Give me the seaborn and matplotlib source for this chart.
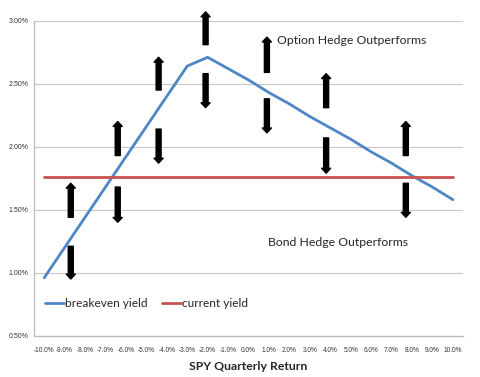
import pandas as pd
import seaborn as sns
import matplotlib.pyplot as plt

# SPY quarterly return categories (%) and yields (%)
returns = [-10, -9, -8, -7, -6, -5, -4, -3, -2, -1, 0, 1, 2, 3, 4, 5, 6, 7, 8, 9, 10]
breakeven_yield = [0.96, 1.20, 1.44, 1.68, 1.92, 2.16, 2.40, 2.64, 2.71, 2.62, 2.53,
                   2.43, 2.34, 2.24, 2.15, 2.06, 1.96, 1.87, 1.77, 1.68, 1.58]
current_yield = [1.76] * len(returns)

# hand-drawn arrows: category position, up arrow (base, tip), down arrow (base, tip)
arrow_pos = [1.3, 3.6, 5.6, 7.9, 10.9, 13.8, 17.7]
up_base = [1.44, 1.93, 2.45, 2.81, 2.59, 2.31, 1.93]
up_tip = [1.71, 2.20, 2.71, 3.07, 2.87, 2.58, 2.20]
down_base = [1.21, 1.68, 2.14, 2.58, 2.38, 2.07, 1.71]
down_tip = [0.95, 1.40, 1.87, 2.31, 2.11, 1.79, 1.44]

sns.set_style("white")
plt.rcParams["font.family"] = ["Lato", "DejaVu Sans"]

df = pd.DataFrame({
    "pos": list(range(len(returns))) * 2,
    "value": breakeven_yield + current_yield,
    "series": ["breakeven yield"] * len(returns) + ["current yield"] * len(returns),
})

fig = plt.figure(figsize=(4.8, 3.77), dpi=100)
ax = fig.add_axes([0.0708, 0.1095, 0.8938, 0.8355])

sns.lineplot(data=df, x="pos", y="value", hue="series",
             palette={"breakeven yield": "#4F86C6", "current yield": "#C9514E"},
             linewidth=2.0, ax=ax)

for x, ub, ut, db, dt in zip(arrow_pos, up_base, up_tip, down_base, down_tip):
    for base, tip in ((ub, ut), (db, dt)):
        ax.annotate("", xy=(x, tip), xytext=(x, base), annotation_clip=False,
                    arrowprops=dict(width=3.6, headwidth=6.5, headlength=3.5,
                                    shrink=0, color="black", clip_on=False))

ax.text(11.4, 2.84, "Option Hedge Outperforms", fontsize=8.8, va="center", ha="left")
ax.text(10.95, 1.24, "Bond Hedge Outperforms", fontsize=8.8, va="center", ha="left")

ax.set_ylim(0.5, 3.0)
ax.set_xlim(-0.5, len(returns) - 0.5)
yt = [0.5, 1.0, 1.5, 2.0, 2.5, 3.0]
ax.set_yticks(yt)
ax.set_yticklabels([f"{v:.2f}%" for v in yt], fontsize=5.0, family="Liberation Sans")
ax.set_xticks(range(len(returns)))
ax.set_xticklabels([f"{v:.1f}%" for v in returns], fontsize=4.7, family="Liberation Sans")
ax.set_xticks([i - 0.5 for i in range(len(returns) + 1)], minor=True)
ax.tick_params(axis="x", which="major", length=0, pad=8, colors="#333333")
ax.tick_params(axis="x", which="minor", length=3, color="#BBBBBB", direction="out")
ax.tick_params(axis="y", length=0, pad=4, colors="#333333")
ax.yaxis.grid(True, color="#C8C8C8", linewidth=0.8)
ax.set_axisbelow(True)

for side in ("top", "right"):
    ax.spines[side].set_visible(False)
for side in ("left", "bottom"):
    ax.spines[side].set_color("#BBBBBB")
    ax.spines[side].set_linewidth(0.9)

ax.set_xlabel("SPY Quarterly Return", fontsize=8.8, fontweight="bold", labelpad=5)
ax.set_ylabel("")

ax.legend(loc="lower left", bbox_to_anchor=(0.0, 0.05), ncol=2, frameon=False,
          fontsize=8.6, handlelength=1.6, handletextpad=0.1, columnspacing=1.2,
          title=None)

fig.savefig("out.png", dpi=100)
